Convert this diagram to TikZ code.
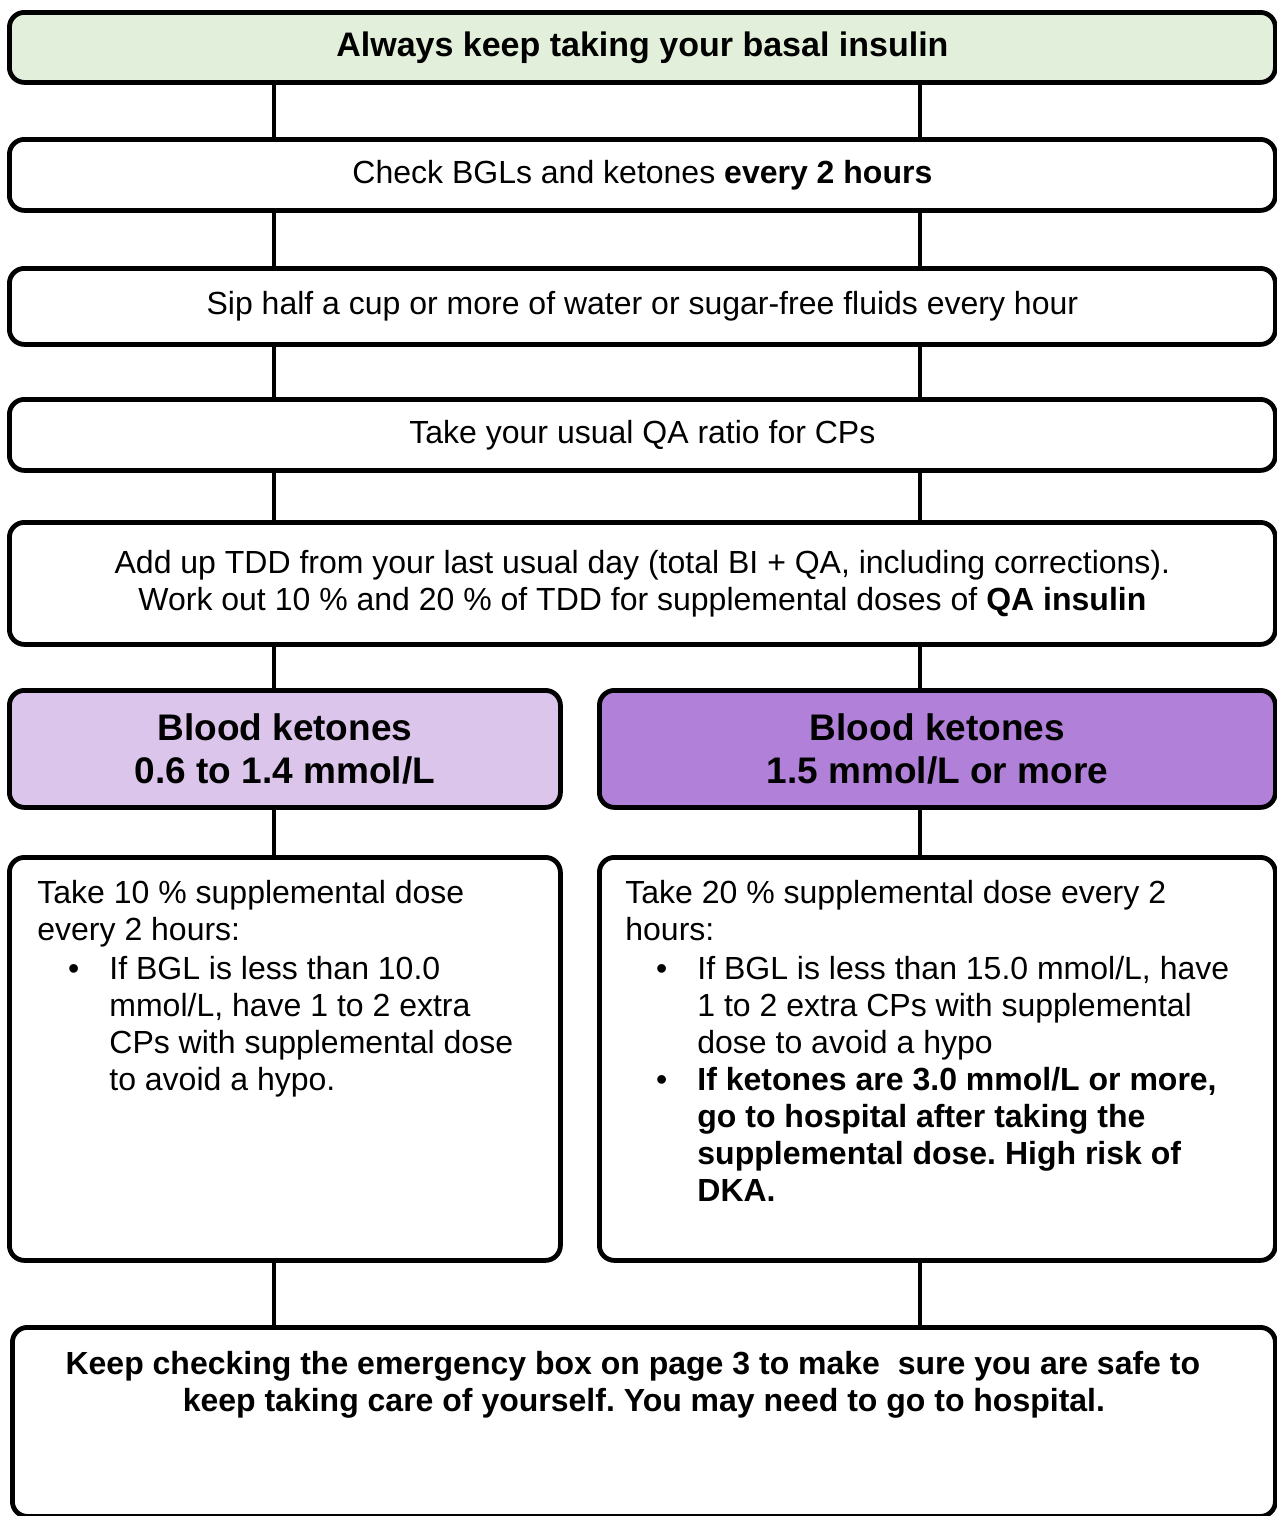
\documentclass[tikz,border=0pt]{standalone}
\usepackage{fontspec}
\setmainfont{Liberation Sans}
\usepackage{tikz}
\frenchspacing

\definecolor{basalgreen}{HTML}{E2EFDA}
\definecolor{ketlight}{HTML}{DBC5EB}
\definecolor{ketdark}{HTML}{B180D9}

\newcommand{\bodysize}{\fontsize{16pt}{18.5pt}\selectfont}
\newenvironment{dosebullets}{\begin{list}{\textbullet}{%
  \setlength{\leftmargin}{36pt}\setlength{\labelsep}{15pt}%
  \setlength{\labelwidth}{6pt}\setlength{\itemsep}{0pt}%
  \setlength{\parsep}{0pt}\setlength{\topsep}{1pt}\setlength{\partopsep}{0pt}}}%
  {\end{list}}

\tikzset{
  boxline/.style={draw, line width=2.4pt, rounded corners=7.5pt, anchor=north west, font=\bodysize},
  stepbox/.style={boxline, inner sep=0pt, align=center},
  dosebox/.style={boxline, inner xsep=14pt, inner ysep=11.5pt},
  link/.style={line width=2pt}
}

\begin{document}
\begin{tikzpicture}[x=0.5pt,y=-0.5pt]

\useasboundingbox (0,0) rectangle (1277,1516);

\coordinate (lft) at (274,0);
\coordinate (rgt) at (920,0);

% steps
\node[stepbox, fill=basalgreen, minimum width=633pt, minimum height=35pt,
  font=\fontsize{17pt}{20pt}\selectfont\bfseries] (basal) at (7,10)
  {Always keep taking your basal insulin};
\node[stepbox, minimum width=633pt, minimum height=35.5pt] (check) at (7,137)
  {Check BGLs and ketones \textbf{every 2 hours}};
\node[stepbox, minimum width=633pt, minimum height=38pt] (sip) at (7,266)
  {Sip half a cup or more of water or sugar-free fluids every hour};
\node[stepbox, minimum width=633pt, minimum height=35.5pt] (usual) at (7,397)
  {Take your usual QA ratio for CPs};
\node[stepbox, minimum width=633pt, minimum height=61pt] (tdd) at (7,520)
  {Add up TDD from your last usual day (total BI + QA, including corrections).\\
   Work out 10 \% and 20 \% of TDD for supplemental doses of \textbf{QA insulin}};

% ketone levels
\node[stepbox, fill=ketlight, minimum width=275.5pt, minimum height=58.5pt,
  font=\fontsize{18.5pt}{21.5pt}\selectfont\bfseries] (ketlow) at (7,688)
  {Blood ketones\\0.6 to 1.4 mmol/L};
\node[stepbox, fill=ketdark, minimum width=338pt, minimum height=58.5pt,
  font=\fontsize{18.5pt}{21.5pt}\selectfont\bfseries] (kethigh) at (597,688)
  {Blood ketones\\1.5 mmol/L or more};

% doses
\node[dosebox] (doselow) at (7,855) {\begin{minipage}[t][178.5pt][t]{247.5pt}\raggedright
  Take 10 \% supplemental dose\\every 2 hours:
  \begin{dosebullets}
  \item If BGL is less than 10.0\\mmol/L, have 1 to 2 extra\\CPs with supplemental dose\\to avoid a hypo.
  \end{dosebullets}\end{minipage}};
\node[dosebox, inner xsep=13pt] (dosehigh) at (597,855) {\begin{minipage}[t][178.5pt][t]{312pt}\raggedright
  Take 20 \% supplemental dose every 2\\hours:
  \begin{dosebullets}
  \item If BGL is less than 15.0 mmol/L, have\\1 to 2 extra CPs with supplemental\\dose to avoid a hypo
  \item {\bfseries If ketones are 3.0 mmol/L or more,\\go to hospital after taking the\\supplemental dose. High risk of\\DKA.}
  \end{dosebullets}\end{minipage}};

\node[boxline, inner xsep=14pt, inner ysep=12pt] (emergency) at (10,1325)
  {\begin{minipage}[t][70.5pt][t]{603.5pt}\centering\bfseries
  Keep checking the emergency box on page 3 to make \ sure you are safe to\kern11pt\\
  keep taking care of yourself. You may need to go to hospital.\end{minipage}};

% connectors
\foreach \a/\b in {basal/check, check/sip, sip/usual, usual/tdd}
  \draw[link] (\a.south -| lft) -- (\b.north -| lft) (\a.south -| rgt) -- (\b.north -| rgt);
\foreach \a/\b in {tdd/ketlow, ketlow/doselow, doselow/emergency}
  \draw[link] (\a.south -| lft) -- (\b.north -| lft);
\foreach \a/\b in {tdd/kethigh, kethigh/dosehigh, dosehigh/emergency}
  \draw[link] (\a.south -| rgt) -- (\b.north -| rgt);

\end{tikzpicture}
\end{document}
